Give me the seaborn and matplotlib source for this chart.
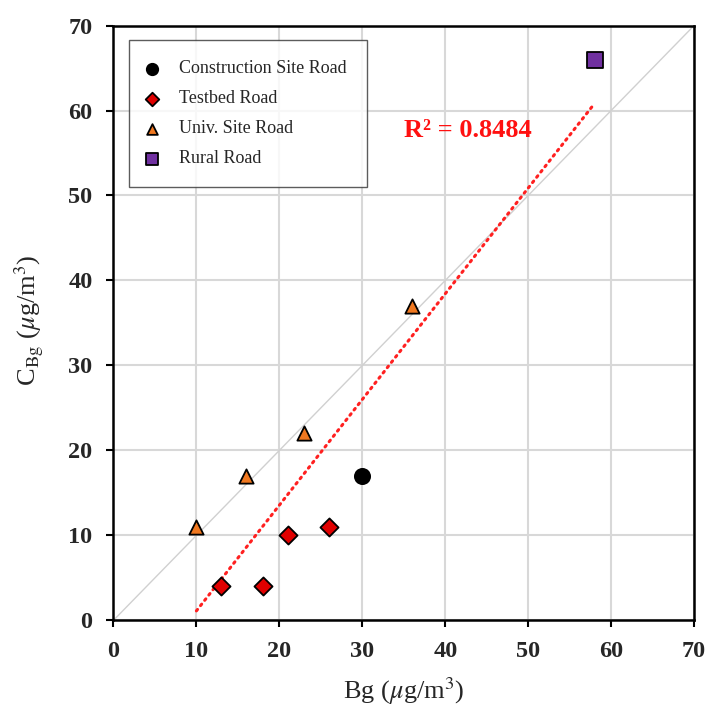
import matplotlib
matplotlib.use("Agg")
import matplotlib.pyplot as plt
import seaborn as sns
import pandas as pd

sns.set_theme(style="white")
plt.rcParams["font.family"] = ["Liberation Serif", "DejaVu Serif"]
plt.rcParams["mathtext.fontset"] = "stix"

# Measured background vs. computed background concentrations per road type
sites = ["Construction Site Road",
         "Testbed Road", "Testbed Road", "Testbed Road", "Testbed Road",
         "Univ. Site Road", "Univ. Site Road", "Univ. Site Road", "Univ. Site Road",
         "Rural Road"]
bg = [30, 13, 18, 21, 26, 10, 16, 23, 36, 58]
c_bg = [17, 4, 4, 10, 11, 11, 17, 22, 37, 66]
ticks = [0, 10, 20, 30, 40, 50, 60, 70]

df = pd.DataFrame({"Bg": bg, "CBg": c_bg, "Site": sites})

order = ["Construction Site Road", "Testbed Road", "Univ. Site Road", "Rural Road"]
palette = {"Construction Site Road": "#000000", "Testbed Road": "#E00000",
           "Univ. Site Road": "#F07820", "Rural Road": "#7030A0"}
markers = {"Construction Site Road": "o", "Testbed Road": "D",
           "Univ. Site Road": "^", "Rural Road": "s"}
sizes = {"Construction Site Road": 120, "Testbed Road": 85,
         "Univ. Site Road": 105, "Rural Road": 130}

fig = plt.figure(figsize=(7.09, 7.09), dpi=100)
ax = fig.add_axes([0.160, 0.125, 0.819, 0.839])

# 1:1 reference line
ax.plot([0, 70], [0, 70], color="#d0d0d0", lw=1.0, zorder=1)

# linear fit over all points
sns.regplot(data=df, x="Bg", y="CBg", scatter=False, ci=None, truncate=True,
            line_kws={"color": "#FF2020", "lw": 2.2, "ls": (0, (0.6, 1.6)),
                      "dash_capstyle": "round", "zorder": 2}, ax=ax)

for s in order:
    sub = df[df["Site"] == s]
    sns.scatterplot(data=sub, x="Bg", y="CBg", color=palette[s], marker=markers[s],
                    s=sizes[s], edgecolor="black", linewidth=1.3, ax=ax,
                    label=s, zorder=3)

ax.set_xlim(0, 70)
ax.set_ylim(0, 70)
ax.set_xticks(ticks)
ax.set_yticks(ticks)
ax.set_xticklabels([str(t) for t in ticks], fontsize=17.5, fontweight="bold")
ax.set_yticklabels([str(t) for t in ticks], fontsize=17.5, fontweight="bold")
ax.tick_params(direction="out", length=5, width=1.5, color="black", pad=10,
               bottom=True, left=True)
ax.grid(True, color="#d8d8d8", lw=1.5)
ax.set_axisbelow(True)
for sp in ax.spines.values():
    sp.set_color("black")
    sp.set_linewidth(1.8)

ax.set_xlabel(r"Bg ($\mu$g/m$^3$)", fontsize=19)
ax.set_ylabel(r"C$_{\rm Bg}$ ($\mu$g/m$^3$)", fontsize=19)
ax.xaxis.set_label_coords(0.5, -0.092)
ax.yaxis.set_label_coords(-0.117, 0.505)

ax.text(42.7, 57.7, "R² = 0.8484", color="#FF1010", fontsize=19,
        fontweight="bold", ha="center", va="center")

leg = ax.legend(loc="upper left", bbox_to_anchor=(0.026, 0.975), fontsize=13,
                frameon=True, fancybox=False, edgecolor="#333333",
                borderpad=1.1, labelspacing=0.72, handlelength=0.4,
                handletextpad=1.3, markerscale=0.75, borderaxespad=0)
leg.get_frame().set_linewidth(1.0)

fig.savefig("out.png", dpi=100)
